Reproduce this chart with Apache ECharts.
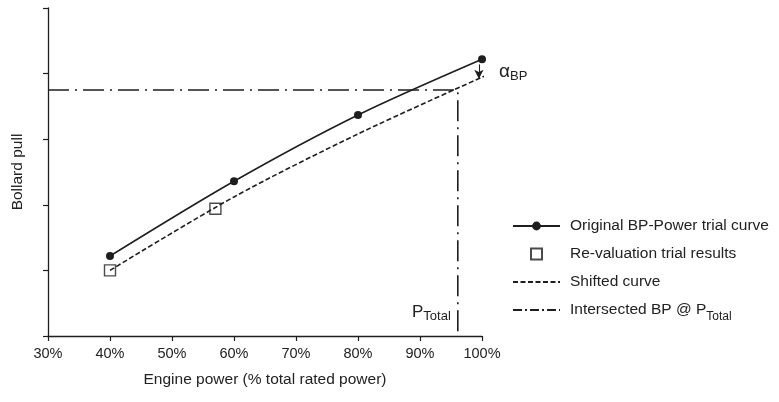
<!DOCTYPE html>
<html>
<head>
<meta charset="utf-8">
<script src="https://cdn.jsdelivr.net/npm/echarts@6/dist/echarts.min.js"></script>
<style>html,body{margin:0;padding:0;background:#fff;}#c{width:779px;height:402px;}</style>
</head>
<body>
<div id="c"></div>
<script>
// Data
var xTicks = [30, 40, 50, 60, 70, 80, 90, 100];
var originalX = [40, 60, 80, 100];
var originalY = [1.22, 2.36, 3.37, 4.22];
var revalX = [40, 57];
var revalY = [1.0, 1.94];
var shiftedX = [40, 60, 80, 100.6];
var shiftedY = [1.0, 2.12, 3.08, 3.97];
var pTotal = 96.1;
var bpIntersect = 3.75;
var alphaTop = 4.14;
var alphaBottom = 3.92;
var alphaX = 99.5;
var seriesNames = ['Original BP-Power trial curve', 'Re-valuation trial results', 'Shifted curve', 'Intersected BP @ P_Total'];

function zip(a, b) { return a.map(function (v, i) { return [v, b[i]]; }); }

var ink = '#1e1e1e';
var font = 'Liberation Sans, Arial, sans-serif';
var hidden = { color: 'rgba(0,0,0,0)', borderColor: 'rgba(0,0,0,0)', borderWidth: 0, opacity: 0 };
var chart = echarts.init(document.getElementById('c'), null, { renderer: 'canvas' });

chart.setOption({
  animation: false,
  backgroundColor: '#fff',
  textStyle: { fontFamily: font },
  grid: { left: 48, top: 8, right: 297, bottom: 66, containLabel: false },
  legend: {
    orient: 'vertical',
    left: 507,
    top: 213,
    itemWidth: 47,
    itemHeight: 11,
    itemGap: 12,
    symbolKeepAspect: true,
    data: [
      { name: seriesNames[0] },
      { name: seriesNames[1], icon: 'path://M0,0L10,0L10,10L0,10Z' },
      { name: seriesNames[2], itemStyle: hidden },
      { name: seriesNames[3], itemStyle: hidden, lineStyle: { type: [9, 3, 2, 3] } }
    ],
    formatter: function (n) {
      if (n === seriesNames[3]) return '{m|Intersected BP @ P}{s|Total}';
      return '{m|' + n + '}';
    },
    textStyle: {
      color: '#222',
      fontSize: 15.5,
      fontFamily: font,
      padding: [0, 0, 0, 5],
      rich: {
        m: { fontSize: 15.5, lineHeight: 18, color: '#222', fontFamily: font },
        s: { fontSize: 12, lineHeight: 12, verticalAlign: 'bottom', padding: [0, 0, -4, 0], color: '#222', fontFamily: font }
      }
    }
  },
  xAxis: {
    type: 'value',
    min: xTicks[0],
    max: xTicks[xTicks.length - 1],
    interval: 10,
    name: 'Engine power (% total rated power)',
    nameLocation: 'middle',
    nameGap: 36,
    nameTextStyle: { color: '#222', fontSize: 15.5, fontFamily: font },
    axisLine: { show: true, lineStyle: { color: ink, width: 1.3 } },
    axisTick: { show: true, length: 5, lineStyle: { color: ink, width: 1.2 } },
    axisLabel: { color: '#222', fontSize: 14.5, margin: 10, formatter: '{value}%', fontFamily: font },
    splitLine: { show: false }
  },
  yAxis: {
    type: 'value',
    min: 0,
    max: 5,
    interval: 1,
    name: 'Bollard pull',
    nameLocation: 'middle',
    nameGap: 22,
    nameTextStyle: { color: '#222', fontSize: 15.5, fontFamily: font },
    axisLine: { show: true, lineStyle: { color: ink, width: 1.3 } },
    axisTick: { show: true, length: 5, lineStyle: { color: ink, width: 1.2 } },
    axisLabel: { show: false },
    splitLine: { show: false }
  },
  series: [
    {
      name: seriesNames[0],
      type: 'line',
      smooth: 0.3,
      data: zip(originalX, originalY),
      symbol: 'circle',
      symbolSize: 8,
      itemStyle: { color: ink },
      lineStyle: { color: ink, width: 1.6 },
      z: 5,
      markLine: {
        silent: true,
        symbol: ['none', 'arrow'],
        symbolSize: [7, 9],
        label: { show: false },
        lineStyle: { color: ink, width: 1.1, type: 'solid' },
        data: [[{ coord: [alphaX, alphaTop] }, { coord: [alphaX, alphaBottom] }]]
      },
      markPoint: {
        silent: true,
        symbol: 'circle',
        symbolSize: 0,
        data: [{ coord: [100, 4.03] }],
        label: {
          show: true,
          position: 'right',
          distance: 17,
          formatter: '{a|α}{b|BP}',
          rich: {
            a: { fontSize: 19, lineHeight: 22, color: '#222', fontFamily: font },
            b: { fontSize: 13, lineHeight: 14, verticalAlign: 'bottom', color: '#222', fontFamily: font }
          }
        }
      }
    },
    {
      name: seriesNames[1],
      type: 'scatter',
      data: zip(revalX, revalY),
      symbol: 'rect',
      symbolSize: 11,
      itemStyle: { color: '#fff', borderColor: ink, borderWidth: 1.4 },
      z: 4
    },
    {
      name: seriesNames[2],
      type: 'line',
      smooth: 0.3,
      data: zip(shiftedX, shiftedY),
      symbol: 'none',
      itemStyle: { color: ink },
      lineStyle: { color: ink, width: 1.6, type: [5, 2.5] },
      z: 6
    },
    {
      name: seriesNames[3],
      type: 'line',
      data: [[xTicks[0], bpIntersect], [pTotal, bpIntersect], [pTotal, 0]],
      symbol: 'none',
      itemStyle: { color: ink },
      lineStyle: { color: ink, width: 1.6, type: [21, 6, 2, 6] },
      z: 3,
      markPoint: {
        silent: true,
        symbol: 'circle',
        symbolSize: 0,
        data: [{ coord: [pTotal, 0.36] }],
        label: {
          show: true,
          position: 'left',
          distance: 7,
          formatter: '{a|P}{b|Total}',
          rich: {
            a: { fontSize: 17, lineHeight: 22, color: '#222', fontFamily: font },
            b: { fontSize: 13, lineHeight: 13, verticalAlign: 'bottom', color: '#222', fontFamily: font }
          }
        }
      }
    }
  ]
});
</script>
</body>
</html>
